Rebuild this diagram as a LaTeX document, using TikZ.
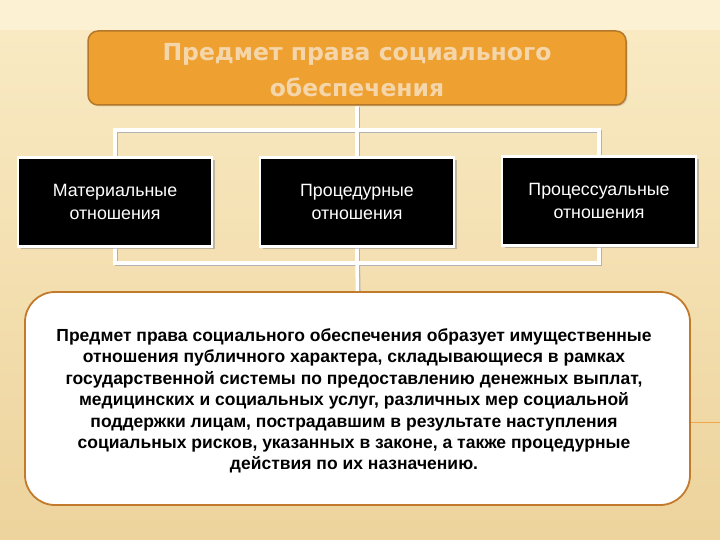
\documentclass[tikz,border=0pt]{standalone}
\usepackage{fontspec}
\setmainfont{Liberation Sans}
\newfontfamily\headfont{DejaVu Sans}
\usetikzlibrary{shadows}
\definecolor{bgtop}{HTML}{FCF1D3}
\definecolor{bgmid}{HTML}{F9EAC3}
\definecolor{bgbot}{HTML}{EDD39C}
\definecolor{orfill}{HTML}{EEA131}
\definecolor{ordraw}{HTML}{B5782A}
\definecolor{ortext}{HTML}{F4D6AA}
\definecolor{botdraw}{HTML}{C27A2C}
\definecolor{decoline}{HTML}{F0A848}
\pgfdeclarelayer{back}
\pgfdeclarelayer{lines}
\pgfsetlayers{back,lines,main}
\tikzset{
  headbox/.style={draw=ordraw, line width=1.5pt, fill=orfill, rounded corners=10pt,
    minimum width=538pt, minimum height=74pt, inner sep=0pt,
    drop shadow={shadow xshift=1.5pt, shadow yshift=-1.5pt, opacity=0.25}},
  headtext/.style={align=center, inner sep=0pt,
    text=ortext, font=\headfont\bfseries\fontsize{23.5}{36}\selectfont},
  blackbox/.style={draw=white, line width=2.5pt, fill=black,
    minimum width=194pt, minimum height=89pt, inner sep=0pt, align=center,
    text=white, font=\fontsize{17.8}{23}\selectfont,
    drop shadow={shadow xshift=2.5pt, shadow yshift=-2.5pt, opacity=0.45}},
  textbox/.style={draw=botdraw, line width=1.8pt, fill=white, rounded corners=30pt,
    minimum width=665pt, minimum height=213pt, inner sep=0pt},
  bodytext/.style={align=center, text=black, inner sep=0pt,
    font=\bfseries\fontsize{17.5}{21.4}\selectfont},
  conn/.style={draw=white, line width=3.5pt},
  connsh/.style={draw=black!30, line width=3.5pt, transform canvas={shift={(1.3pt,-1.3pt)}}}
}
\begin{document}
\begin{tikzpicture}[x=1pt,y=-1pt]
\useasboundingbox (0,0) rectangle (720,540);
\begin{pgfonlayer}{back}
  \shade[top color=bgmid, bottom color=bgbot] (0,30) rectangle (720,540);
  \fill[bgtop] (0,0) rectangle (720,30);
  \draw[decoline, line width=1pt] (690,422) -- (720,422);
\end{pgfonlayer}

\node[headbox] (head) at (357,68) {};
\node[headtext] (headt) at (357,70.5) {Предмет права социального\\обеспечения};
\node[blackbox] (m1) at (115,202) {Материальные\\отношения};
\node[blackbox] (m2) at (357,202) {Процедурные\\отношения};
\node[blackbox] (m3) at (599,201) {Процессуальные\\отношения};
\node[textbox] (txt) at (357.5,398.5) {};
\node[bodytext] (body) at (354,401) {Предмет права социального обеспечения образует имущественные\\
отношения публичного характера, складывающиеся в рамках\\
государственной системы по предоставлению денежных выплат,\\
медицинских и социальных услуг, различных мер социальной\\
поддержки лицам, пострадавшим в результате наступления\\
социальных рисков, указанных в законе, а также процедурные\\
действия по их назначению.};

\coordinate (top) at (357,130);
\coordinate (bot) at (357,263);

\begin{pgfonlayer}{lines}
  \foreach \s in {connsh,conn}{
    \draw[\s] (head.south) -- (top);
    \draw[\s] (m1.north) |- (top) -| (m3.north);
    \draw[\s] (top) -- (m2.north);
    \draw[\s] (m1.south) |- (bot) -| (m3.south);
    \draw[\s] (m2.south) -- (bot);
    \draw[\s] (bot) -- (txt.north);
  }
\end{pgfonlayer}
\end{tikzpicture}
\end{document}
